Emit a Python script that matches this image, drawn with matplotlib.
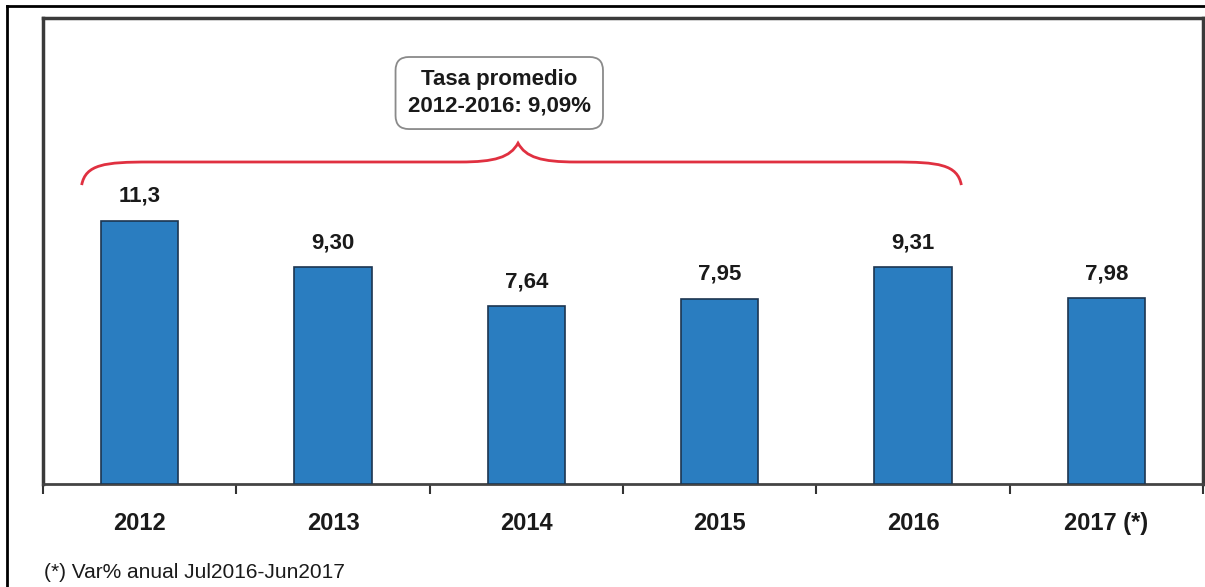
import matplotlib
matplotlib.use("Agg")
import matplotlib.pyplot as plt
from matplotlib.path import Path
from matplotlib.patches import PathPatch
from matplotlib.lines import Line2D
from matplotlib import font_manager

categories = ["2012", "2013", "2014", "2015", "2016", "2017 (*)"]
values = [11.3, 9.30, 7.64, 7.95, 9.31, 7.98]
value_labels = ["11,3", "9,30", "7,64", "7,95", "9,31", "7,98"]
box_text = "Tasa promedio\n2012-2016: 9,09%"
footnote = "(*) Var% anual Jul2016-Jun2017"

names = {f.name for f in font_manager.fontManager.ttflist}
fam = ["Liberation Sans Narrow", "Liberation Sans", "DejaVu Sans"]
fam = [f for f in fam if f in names] or ["DejaVu Sans"]
plt.rcParams["font.family"] = fam

W, H = 1205, 587
fig = plt.figure(figsize=(W / 100, H / 100), dpi=100)
ax = fig.add_axes([43 / W, 1 - 484 / H, 1160 / W, 466 / H])

x = list(range(len(categories)))
ax.bar(x, values, width=0.4, color="#2a7dc0", edgecolor="#1c3550", linewidth=1.2, zorder=3)
ax.set_xlim(-0.5, len(categories) - 0.5)
ax.set_ylim(0, 20)

for xi, v, lab in zip(x, values, value_labels):
    ax.text(xi, v + 0.6, lab, ha="center", va="bottom", fontsize=16,
            fontweight="bold", color="#1a1a1a")

ax.set_xticks(x)
ax.set_xticklabels(categories, fontsize=17, fontweight="bold", color="#1a1a1a")
ax.tick_params(axis="x", which="major", length=0, pad=20)
ax.set_xticks([i + 0.5 for i in range(-1, len(categories))], minor=True)
ax.tick_params(axis="x", which="minor", length=7, width=1.5, color="#333333", direction="out")
ax.set_yticks([])

for s in ["left", "top", "right"]:
    ax.spines[s].set_linewidth(2.5)
    ax.spines[s].set_color("#3a3a3a")
ax.spines["bottom"].set_linewidth(2)
ax.spines["bottom"].set_color("#444444")

# Brace
x0, x1, xm = -0.30, 4.25, 1.957
yb, yf, yp = 12.83, 13.82, 14.63
verts = [
    (x0, yb), (x0 + 0.02, yf - 0.1), (x0 + 0.12, yf), (x0 + 0.35, yf),
    (xm - 0.3, yf),
    (xm - 0.12, yf), (xm - 0.04, yf + 0.2), (xm, yp),
    (xm + 0.04, yf + 0.2), (xm + 0.12, yf), (xm + 0.3, yf),
    (x1 - 0.35, yf),
    (x1 - 0.12, yf), (x1 - 0.02, yf - 0.1), (x1, yb),
]
codes = [Path.MOVETO, Path.CURVE4, Path.CURVE4, Path.CURVE4,
         Path.LINETO,
         Path.CURVE4, Path.CURVE4, Path.CURVE4,
         Path.CURVE4, Path.CURVE4, Path.CURVE4,
         Path.LINETO,
         Path.CURVE4, Path.CURVE4, Path.CURVE4]
ax.add_patch(PathPatch(Path(verts, codes), facecolor="none", edgecolor="#e03040",
                       linewidth=2, zorder=4))

ax.text(1.86, 16.78, box_text, ha="center", va="center", fontsize=16,
        fontweight="bold", color="#1a1a1a", linespacing=1.35,
        bbox=dict(boxstyle="round,pad=0.55,rounding_size=0.6", facecolor="white",
                  edgecolor="#8a8a8a", linewidth=1.3))

fig.text(44 / W, 1 - 572 / H, footnote, ha="left", va="center", fontsize=15, color="#1a1a1a")

# outer frame
fig.add_artist(Line2D([7 / W, 7 / W], [0, 1 - 6 / H], transform=fig.transFigure,
                      color="black", linewidth=2))
fig.add_artist(Line2D([7 / W, 1], [1 - 6 / H, 1 - 6 / H], transform=fig.transFigure,
                      color="black", linewidth=2))

fig.savefig("out.png", dpi=100)
